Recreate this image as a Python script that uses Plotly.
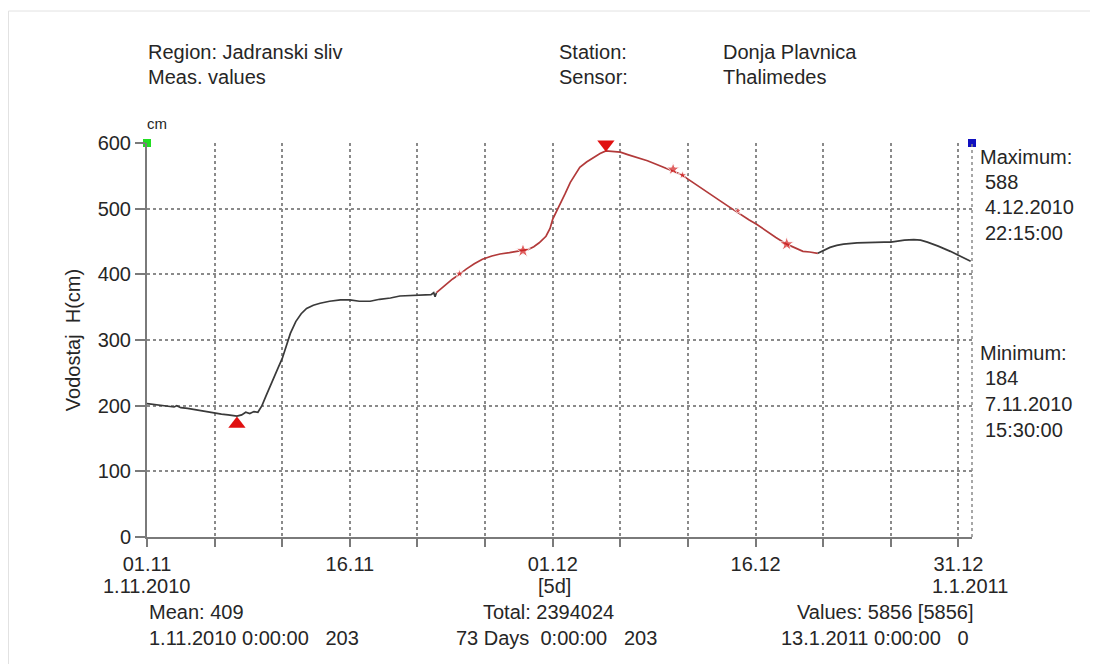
import pandas as pd
import plotly.graph_objects as go

# ---------------- data (day offsets from 1.11.2010, water level in cm) ----------------
BASE = pd.Timestamp("2010-11-01")

black1_days = [0.0, 0.5, 1.0, 1.5, 2.0, 2.2, 2.5, 3.0, 3.5, 4.0, 4.5, 5.0, 5.5, 6.0, 6.65,
               7.0, 7.3, 7.6, 7.9, 8.2, 8.5, 8.8, 9.1, 9.4, 9.7, 10.0, 10.3, 10.6, 11.0,
               11.4, 11.8, 12.3, 12.8, 13.5, 14.3, 15.0, 15.7, 16.5, 17.2, 18.0, 18.7,
               19.5, 20.3, 21.0, 21.2, 21.3, 21.4]
black1_vals = [203, 202, 201, 200, 198, 200, 197, 196, 194, 192, 190, 188, 187, 186, 184,
               186, 190, 188, 191, 190, 200, 215, 230, 245, 258, 272, 292, 310, 328,
               340, 348, 353, 356, 359, 361, 361, 359, 359, 362, 364, 367,
               368, 369, 369, 372, 366, 372]

red_days = [21.4, 22.0, 22.6, 23.1, 23.6, 24.2, 24.8, 25.5, 26.1, 26.8, 27.4, 27.8, 28.2,
            28.6, 29.0, 29.5, 29.8, 30.0, 30.5, 30.9, 31.3, 31.7, 32.0, 32.5, 33.0, 33.5,
            33.93, 34.5, 35.0, 35.6, 36.3, 37.0, 37.6, 38.3, 38.9, 39.5, 40.0, 40.9, 41.6,
            42.3, 43.1, 43.8, 44.5, 45.1, 45.8, 46.5, 47.3, 48.0, 48.5, 49.0, 49.6]
red_vals = [372, 383, 393, 400, 408, 416, 423, 428, 431, 433, 435, 436, 438,
            442, 448, 458, 470, 484, 504, 522, 540, 553, 563, 571, 578, 584,
            588, 587, 586, 582, 578, 573, 568, 562, 558, 552, 545, 533, 523,
            513, 502, 492, 483, 476, 466, 456, 446, 440, 435, 434, 432]

black2_days = [49.6, 50.0, 50.5, 51.0, 51.5, 52.5, 53.5, 54.5, 55.0, 55.5, 56.0, 56.7,
               57.2, 57.7, 58.5, 59.4, 60.2, 60.9]
black2_vals = [432, 436, 441, 444, 446, 448, 449, 449, 449, 451, 452, 453,
               452, 449, 443, 435, 427, 420]

# small red event marks on the red segment
event_days = [23.1, 27.8, 38.9, 39.6, 43.7, 47.3]
event_vals = [401, 436, 560, 551, 497, 446]
event_sizes = [7, 11, 10, 7, 6, 11]

# extremes
min_day, min_val = 6.65, 184
max_day, max_val = 33.93, 588

# axis ticks
tick_days = [0, 5, 10, 15, 20, 25, 30, 35, 40, 45, 50, 55, 60]
tick_labels = ["01.11", "", "", "16.11", "", "", "01.12", "", "", "16.12", "", "", "31.12"]
y_ticks = [0, 100, 200, 300, 400, 500, 600]
x_end_day = 61
y_top = 600


def to_dates(days):
    return BASE + pd.to_timedelta(days, unit="D")


# ---------------- layout helpers (reference pixel coordinates) ----------------
W, H = 1098, 664
OFF = 8                       # page margin of the html body
L, R, T, B = 147, 972, 143, 537


def px(x):
    return (x - L) / (R - L)


def py(y):
    return (B - y) / (B - T)


FONT = "Liberation Sans, Arial, sans-serif"
TXT = "#262626"
FS = 20

fig = go.Figure()

fig.add_trace(go.Scatter(x=to_dates(black1_days), y=black1_vals, mode="lines",
                         line=dict(color="#3a3a3a", width=1.7), showlegend=False))
fig.add_trace(go.Scatter(x=to_dates(red_days), y=red_vals, mode="lines",
                         line=dict(color="#b23a3a", width=1.7), showlegend=False))
fig.add_trace(go.Scatter(x=to_dates(black2_days), y=black2_vals, mode="lines",
                         line=dict(color="#3a3a3a", width=1.7), showlegend=False))
fig.add_trace(go.Scatter(x=to_dates(event_days), y=event_vals, mode="markers",
                         marker=dict(symbol="star", size=event_sizes, color="#d42020"),
                         showlegend=False))
# min / max triangles
fig.add_trace(go.Scatter(x=to_dates([min_day]), y=[min_val - 12], mode="markers",
                         marker=dict(symbol="triangle-up", size=15, color="#e01010"),
                         showlegend=False, cliponaxis=False))
fig.add_trace(go.Scatter(x=to_dates([max_day]), y=[max_val + 10], mode="markers",
                         marker=dict(symbol="triangle-down", size=15, color="#e01010"),
                         showlegend=False, cliponaxis=False))
# corner squares
fig.add_trace(go.Scatter(x=to_dates([0, x_end_day]), y=[y_top, y_top], mode="markers",
                         marker=dict(symbol="square", size=8, color=["#22dd22", "#1010c0"]),
                         showlegend=False, cliponaxis=False))

fig.update_xaxes(
    type="date",
    range=[to_dates([0])[0], to_dates([x_end_day])[0]],
    tickmode="array", tickvals=to_dates(tick_days), ticktext=tick_labels,
    showgrid=True, gridcolor="#8a8a8a", griddash="dot", gridwidth=1.5,
    showline=True, linecolor="#7a7a7a", linewidth=2,
    ticks="outside", ticklen=8, tickwidth=2, tickcolor="#7a7a7a",
    tickfont=dict(family=FONT, size=FS, color=TXT),
    zeroline=False, fixedrange=True,
)
fig.update_yaxes(
    range=[0, y_top], tickmode="array", tickvals=y_ticks,
    showgrid=True, gridcolor="#8a8a8a", griddash="dot", gridwidth=1.5,
    showline=True, linecolor="#7a7a7a", linewidth=2,
    ticks="outside", ticklen=10, tickwidth=2, tickcolor="#7a7a7a",
    tickfont=dict(family=FONT, size=FS, color=TXT),
    title=dict(text="Vodostaj  H(cm)", font=dict(family=FONT, size=FS, color=TXT), standoff=12),
    zeroline=False, fixedrange=True,
)

shapes = [
    # dotted right frame
    dict(type="line", xref="paper", yref="paper", x0=1, x1=1, y0=0, y1=1,
         line=dict(color="#8a8a8a", width=1.5, dash="dot")),
    # faint outer frame of the screenshot
    dict(type="rect", xref="paper", yref="paper", x0=px(8.5), x1=px(1110), y0=py(700), y1=py(11),
         line=dict(color="#e2e2e2", width=1)),
]


def ann(text, x, y, xanchor="left", size=FS):
    return dict(text=text, x=px(x), y=py(y), xref="paper", yref="paper",
                xanchor=xanchor, yanchor="middle", showarrow=False,
                font=dict(family=FONT, size=size, color=TXT))


annotations = [
    ann("Region: Jadranski sliv", 146, 52),
    ann("Meas. values", 146, 77),
    ann("Station:", 557, 52),
    ann("Sensor:", 557, 77),
    ann("Donja Plavnica", 721, 52),
    ann("Thalimedes", 721, 77),
    ann("cm", 145, 124, size=15),
    ann("Maximum:", 978, 157),
    ann("588", 983, 182),
    ann("4.12.2010", 983, 207),
    ann("22:15:00", 983, 233),
    ann("Minimum:", 978, 353),
    ann("184", 983, 378),
    ann("7.11.2010", 983, 404),
    ann("15:30:00", 983, 430),
    ann("1.11.2010", 147, 586, xanchor="center"),
    ann("[5d]", 554, 586, xanchor="center"),
    ann("1.1.2011", 970, 586, xanchor="center"),
    ann("Mean: 409", 147, 612),
    ann("1.11.2010 0:00:00&nbsp;&nbsp;&nbsp;203", 147, 638),
    ann("Total: 2394024", 548, 612, xanchor="center"),
    ann("73 Days&nbsp;&nbsp;0:00:00&nbsp;&nbsp;&nbsp;203", 556, 638, xanchor="center"),
    ann("Values: 5856 [5856]", 975, 612, xanchor="right"),
    ann("13.1.2011 0:00:00&nbsp;&nbsp;&nbsp;0", 971, 638, xanchor="right"),
]

fig.update_layout(
    width=W - OFF, height=H - OFF,
    margin=dict(l=L - OFF, r=W - R, t=T - OFF, b=H - B),
    paper_bgcolor="white", plot_bgcolor="white",
    font=dict(family=FONT, size=FS, color=TXT),
    shapes=shapes, annotations=annotations, showlegend=False,
)

fig.write_html("out.html")
